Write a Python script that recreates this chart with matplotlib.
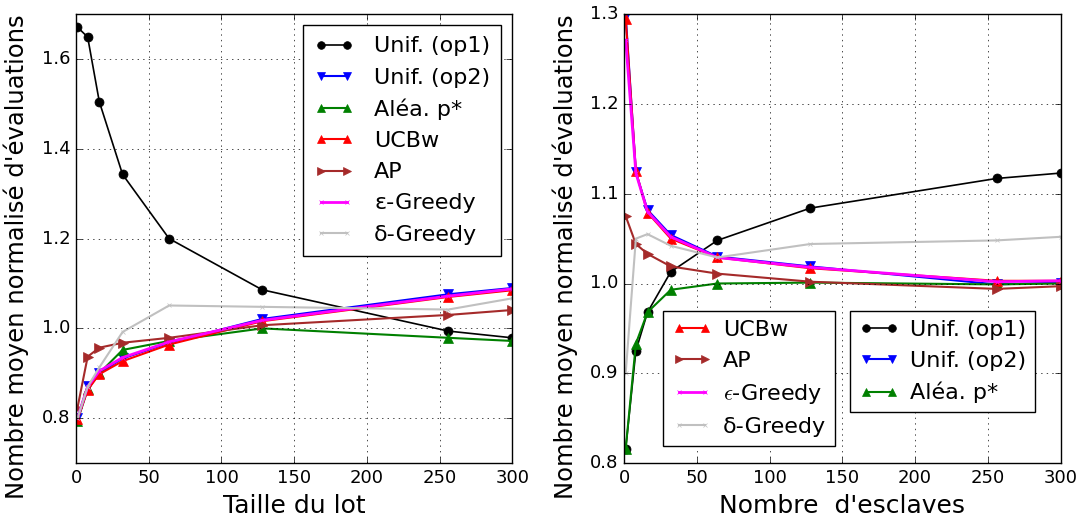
import matplotlib
matplotlib.use('Agg')
import matplotlib.pyplot as plt

plt.style.use('classic')
plt.rcParams['figure.facecolor'] = 'white'
plt.rcParams['savefig.facecolor'] = 'white'
plt.rcParams['font.family'] = ['DejaVu Sans']

x = [1, 8, 16, 32, 64, 128, 256, 300]

# taille du lot
lot_op1 = [1.671, 1.649, 1.505, 1.343, 1.200, 1.086, 0.994, 0.979]
lot_op2 = [0.800, 0.872, 0.901, 0.933, 0.968, 1.021, 1.076, 1.090]
lot_alea = [0.794, 0.864, 0.900, 0.952, 0.972, 1.000, 0.979, 0.972]
lot_ucbw = [0.798, 0.863, 0.898, 0.927, 0.964, 1.016, 1.070, 1.085]
lot_ap = [0.823, 0.937, 0.957, 0.968, 0.979, 1.007, 1.030, 1.041]
lot_eps = [0.800, 0.870, 0.905, 0.935, 0.970, 1.018, 1.072, 1.088]
lot_delta = [0.800, 0.870, 0.913, 0.992, 1.051, 1.048, 1.042, 1.067]

# nombre d'esclaves
esc_op1 = [0.816, 0.925, 0.968, 1.013, 1.048, 1.084, 1.117, 1.123]
esc_op2 = [1.299, 1.124, 1.082, 1.054, 1.030, 1.019, 0.999, 1.001]
esc_alea = [0.816, 0.933, 0.968, 0.993, 1.000, 1.001, 0.999, 1.000]
esc_ucbw = [1.295, 1.125, 1.079, 1.050, 1.029, 1.017, 1.003, 1.003]
esc_ap = [1.075, 1.044, 1.033, 1.019, 1.011, 1.002, 0.994, 0.997]
esc_eps = [1.271, 1.123, 1.080, 1.052, 1.029, 1.018, 1.002, 1.003]
esc_delta = [0.900, 1.050, 1.055, 1.042, 1.029, 1.044, 1.048, 1.052]

ylab = "Nombre moyen normalisé d'évaluations"
leg_kw = dict(fontsize=16, numpoints=2, borderpad=0.5, handletextpad=0.9,
              handlelength=1.8, markerscale=0.85)
leg_kw2 = dict(leg_kw, handletextpad=0.5, borderpad=0.4)

fig = plt.figure(figsize=(10.8, 5.25), dpi=100)
ax1 = fig.add_axes([0.0704, 0.118, 0.404, 0.855])
ax2 = fig.add_axes([0.578, 0.118, 0.404, 0.855])


def draw(ax, d, eps_label):
    h = {}
    h['op1'], = ax.plot(x, d[0], 'k-o', ms=6.5, lw=1.2, label='Unif. (op1)')
    h['op2'], = ax.plot(x, d[1], '-v', color='blue', mec='blue', ms=6.5, lw=1.5, label='Unif. (op2)')
    h['alea'], = ax.plot(x, d[2], '-^', color='green', mec='green', ms=6.5, lw=1.5, label='Aléa. p*')
    h['ucbw'], = ax.plot(x, d[3], '-^', color='red', mec='red', ms=6.5, lw=1.5, label='UCBw')
    h['ap'], = ax.plot(x, d[4], '->', color='brown', mec='brown', ms=6.5, lw=1.5, label='AP')
    h['eps'], = ax.plot(x, d[5], '-x', color='magenta', mec='magenta', ms=3, lw=2, label=eps_label)
    h['delta'], = ax.plot(x, d[6], '-x', color='#c0c0c0', mec='#c0c0c0', ms=3, lw=1.5, label='δ-Greedy')
    ax.grid(True, color='k', linestyle=':')
    ax.set_xlim(0, 300)
    ax.set_xticks([0, 50, 100, 150, 200, 250, 300])
    ax.tick_params(labelsize=13)
    ax.set_ylabel(ylab, fontsize=17.5)
    ax.yaxis.set_label_coords(-0.107, 0.459)
    return h


h1 = draw(ax1, [lot_op1, lot_op2, lot_alea, lot_ucbw, lot_ap, lot_eps, lot_delta], 'ε-Greedy')
ax1.set_ylim(0.7, 1.7)
ax1.set_yticks([0.8, 1.0, 1.2, 1.4, 1.6])
ax1.set_xlabel('Taille du lot', fontsize=18)
ax1.legend(loc='upper right', **leg_kw)

h2 = draw(ax2, [esc_op1, esc_op2, esc_alea, esc_ucbw, esc_ap, esc_eps, esc_delta], r'$\epsilon$-Greedy')
ax2.set_ylim(0.8, 1.3)
ax2.set_yticks([0.8, 0.9, 1.0, 1.1, 1.2, 1.3])
ax2.set_xlabel("Nombre  d'esclaves", fontsize=18)
leg_a = ax2.legend([h2['ucbw'], h2['ap'], h2['eps'], h2['delta']],
                   ['UCBw', 'AP', r'$\epsilon$-Greedy', 'δ-Greedy'],
                   loc='upper left', bbox_to_anchor=(0.089, 0.339), borderaxespad=0,
                   **leg_kw2)
ax2.add_artist(leg_a)
ax2.legend([h2['op1'], h2['op2'], h2['alea']],
           ['Unif. (op1)', 'Unif. (op2)', 'Aléa. p*'],
           loc='upper left', bbox_to_anchor=(0.518, 0.339), borderaxespad=0,
           **leg_kw2)

fig.savefig('out.png', dpi=100)
